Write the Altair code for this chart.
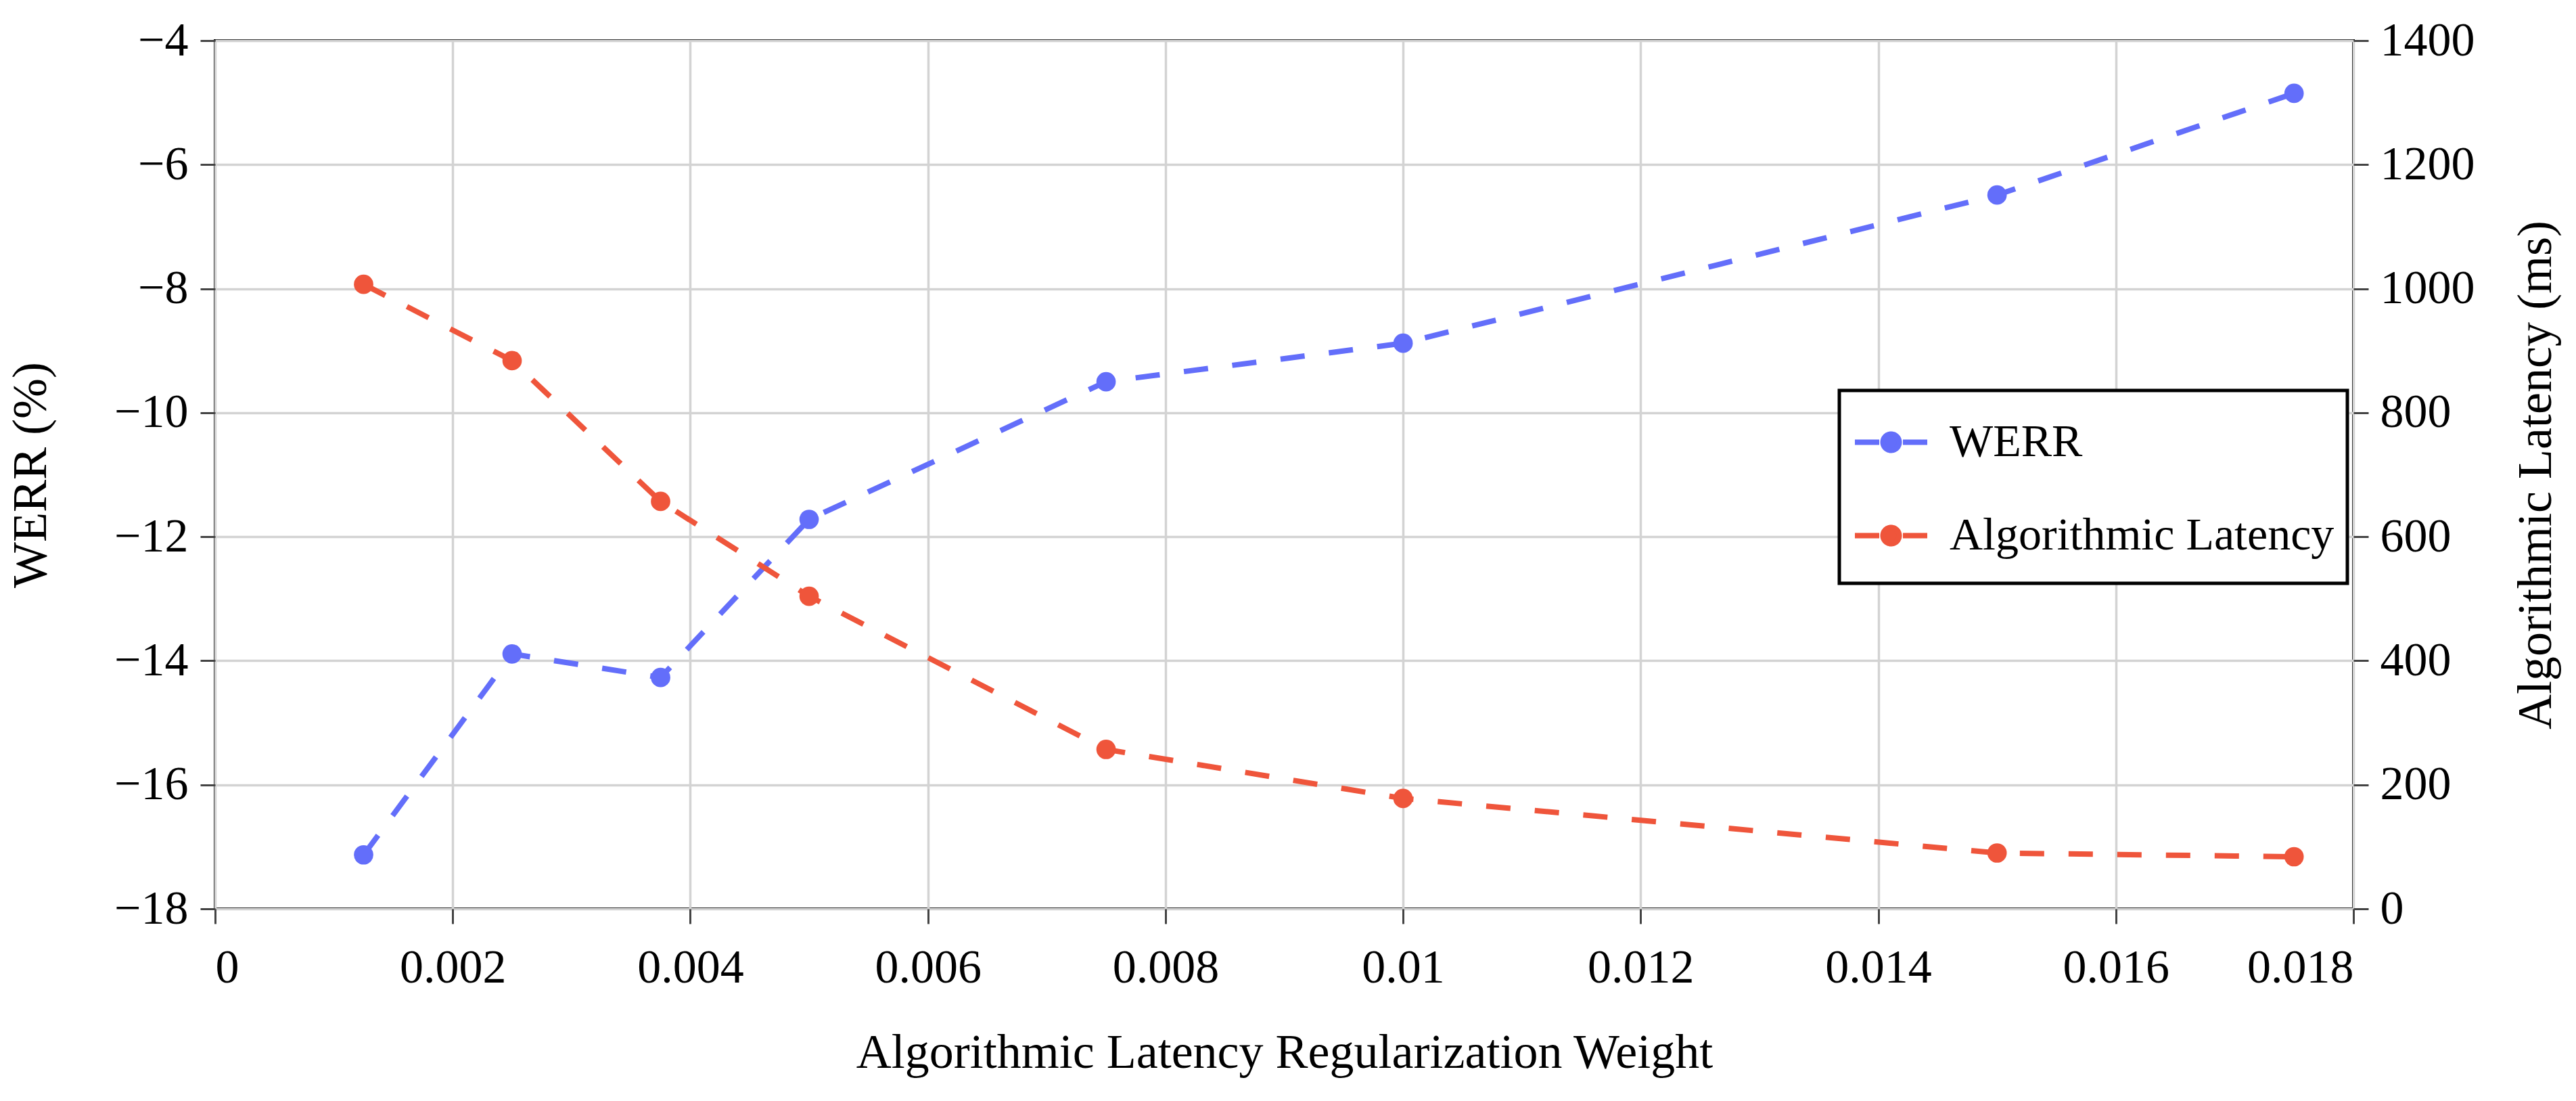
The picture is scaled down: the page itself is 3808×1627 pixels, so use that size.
import altair as alt
import pandas as pd

# ---- data ----
weights = [0.00125, 0.0025, 0.00375, 0.005, 0.0075, 0.01, 0.015, 0.0175]
werr = [-17.13, -13.89, -14.27, -11.72, -9.50, -8.88, -6.49, -4.85]
latency = [1007, 884, 657, 504, 257, 178, 90, 84]

series_names = ["WERR", "Algorithmic Latency"]
series_colors = ["#636EFA", "#EF553B"]

x_ticks = [0, 0.002, 0.004, 0.006, 0.008, 0.01, 0.012, 0.014, 0.016, 0.018]
werr_ticks = [-18, -16, -14, -12, -10, -8, -6, -4]
lat_ticks = [0, 200, 400, 600, 800, 1000, 1200, 1400]

df_w = pd.DataFrame({"weight": weights, "value": werr, "series": series_names[0]})
df_l = pd.DataFrame({"weight": weights, "value": latency, "series": series_names[1]})

FONT = "Liberation Serif"
PLOT_W, PLOT_H = 3161, 1283

legend_path = ("M-1,0H-0.327M0.327,0H1"
               "M0.224,0A0.224,0.224,0,1,1,-0.224,0A0.224,0.224,0,1,1,0.224,0Z"
               "M0,0.657")

legend = alt.Legend(
    title=None,
    orient="none",
    legendX=2401,
    legendY=517,
    padding=19,
    fillColor="white",
    strokeColor="black",
    labelFont=FONT,
    labelFontSize=68,
    labelColor="black",
    labelOffset=29,
    labelLimit=2000,
    rowPadding=29,
    symbolType=legend_path,
    symbolSize=11449,
    symbolStrokeWidth=8,
    symbolDash=[1, 0],
    symbolOpacity=1,
)

series_scale = alt.Scale(domain=series_names, range=series_colors)
fill_enc = alt.Color("series:N", scale=series_scale, legend=legend)
stroke_enc = alt.Stroke("series:N", scale=series_scale, legend=legend)

common_axis = dict(
    labelFont=FONT, labelFontSize=70, labelColor="black",
    titleFont=FONT, titleFontSize=72, titleFontWeight="normal", titleColor="black",
    tickSize=22, tickWidth=3, tickColor="#444444",
    domain=False,
)

x_enc = alt.X(
    "weight:Q",
    scale=alt.Scale(domain=[0, 0.018], nice=False, zero=False),
    axis=alt.Axis(values=x_ticks, format="~g",
                  title="Algorithmic Latency Regularization Weight",
                  labelPadding=31, titleBaseline="alphabetic", titleY=234,
                  grid=True, gridColor="#d3d3d3", gridWidth=3.5,
                  **common_axis),
)

y_left = alt.Y(
    "value:Q",
    scale=alt.Scale(domain=[-18, -4], nice=False, zero=False),
    axis=alt.Axis(values=werr_ticks, format="d", title="WERR (%)", orient="left",
                  labelPadding=18, titleAngle=270, titleBaseline="alphabetic",
                  titleX=-251, titleY=PLOT_H / 2,
                  grid=True, gridColor="#d3d3d3", gridWidth=3.5,
                  **common_axis),
)

y_right = alt.Y(
    "value:Q",
    scale=alt.Scale(domain=[0, 1400], nice=False, zero=False),
    axis=alt.Axis(values=lat_ticks, format="d", title="Algorithmic Latency (ms)",
                  orient="right", labelPadding=17, titleAngle=270,
                  titlePadding=127,
                  grid=False,
                  **common_axis),
)

line_style = dict(strokeDash=[36, 36], strokeWidth=8, opacity=1)
point_style = dict(filled=True, size=824, opacity=1, shape="circle", strokeWidth=0.01)

werr_layer = alt.layer(
    alt.Chart(df_w).mark_line(**line_style).encode(x=x_enc, y=y_left, stroke=stroke_enc),
    alt.Chart(df_w).mark_point(**point_style).encode(x=x_enc, y=y_left, color=fill_enc, stroke=stroke_enc),
)
lat_layer = alt.layer(
    alt.Chart(df_l).mark_line(**line_style).encode(x=x_enc, y=y_right, stroke=stroke_enc),
    alt.Chart(df_l).mark_point(**point_style).encode(x=x_enc, y=y_right, color=fill_enc, stroke=stroke_enc),
)

chart = (
    alt.layer(werr_layer, lat_layer)
    .resolve_scale(y="independent")
    .properties(
        width=PLOT_W,
        height=PLOT_H,
        padding={"left": 310, "top": 52, "right": 310, "bottom": 260},
        autosize=alt.AutoSizeParams(type="none"),
        background="white",
    )
    .configure_view(stroke="black", strokeWidth=4)
    .configure_legend(strokeWidth=5)
)

chart.save("out.html", embed_options={"renderer": "svg", "actions": False})
